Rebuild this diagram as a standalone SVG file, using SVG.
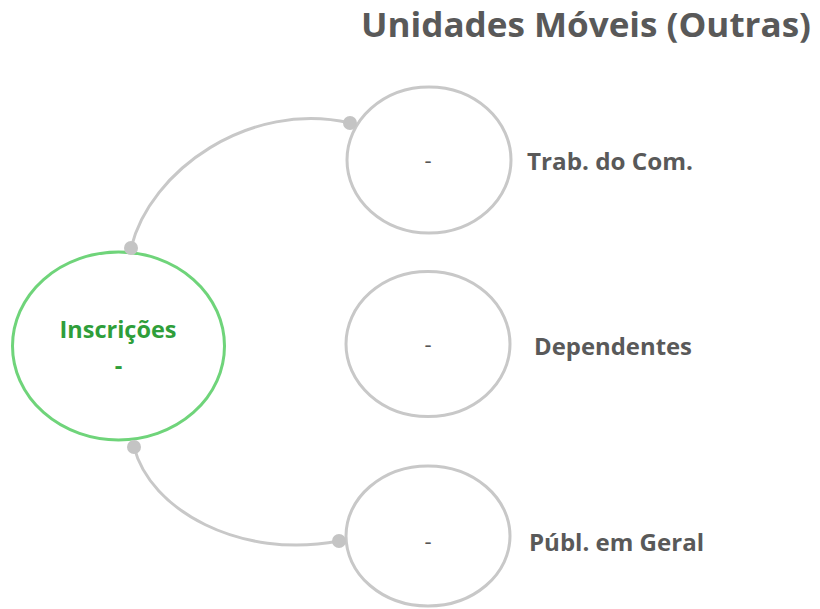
<svg xmlns="http://www.w3.org/2000/svg" width="820" height="609" viewBox="0 0 820 609">
<style>
.bg{fill:#ffffff}
.sub{fill:#ffffff;stroke:#c8c8c8;stroke-width:3}
.main{fill:#ffffff;stroke:#6fd47a;stroke-width:3}
.conn{fill:none;stroke:#c8c8c8;stroke-width:3}
.dot{fill:#c4c4c4}
.title{font-family:"Open Sans","Liberation Sans",sans-serif;font-weight:bold;font-size:34px;fill:#595959}
.lbl{font-family:"Open Sans","Liberation Sans",sans-serif;font-weight:bold;font-size:24px;fill:#595959}
.dash{font-family:"Open Sans","Liberation Sans",sans-serif;font-size:22px;fill:#555555}
.mtxt{font-family:"Open Sans","Liberation Sans",sans-serif;font-weight:bold;font-size:23.5px;fill:#2f9e3a}
</style>
<rect class="bg" x="0" y="0" width="820" height="609"/>
<text class="title" x="361" y="37" textLength="450" lengthAdjust="spacingAndGlyphs">Unidades Móveis (Outras)</text>
<g id="connectors">
<path class="conn" d="M131,248 C150,170 250,100 350,123"/>
<path class="conn" d="M134,447 C150,510 240,560 339,541"/>
</g>
<g id="node-inscricoes">
<ellipse class="main" cx="118.5" cy="346" rx="106" ry="94"/>
<text class="mtxt" x="118" y="338" text-anchor="middle" textLength="117" lengthAdjust="spacingAndGlyphs">Inscrições</text>
<text class="mtxt" x="118.5" y="374" text-anchor="middle">-</text>
</g>
<g id="node-trab">
<ellipse class="sub" cx="429" cy="160" rx="82" ry="73"/>
<text class="dash" x="428" y="168" text-anchor="middle">-</text>
<text class="lbl" x="527" y="170" textLength="166" lengthAdjust="spacingAndGlyphs">Trab. do Com.</text>
</g>
<g id="node-dependentes">
<ellipse class="sub" cx="428" cy="344" rx="82" ry="72.5"/>
<text class="dash" x="428" y="352" text-anchor="middle">-</text>
<text class="lbl" x="534" y="355" textLength="158" lengthAdjust="spacingAndGlyphs">Dependentes</text>
</g>
<g id="node-publ">
<ellipse class="sub" cx="428" cy="536" rx="82" ry="70"/>
<text class="dash" x="428" y="549" text-anchor="middle">-</text>
<text class="lbl" x="529" y="551" textLength="175" lengthAdjust="spacingAndGlyphs">Públ. em Geral</text>
</g>
<g id="dots">
<circle class="dot" cx="131" cy="248" r="7"/>
<circle class="dot" cx="350" cy="123" r="7"/>
<circle class="dot" cx="134" cy="447" r="7"/>
<circle class="dot" cx="339" cy="541" r="7"/>
</g>
</svg>
